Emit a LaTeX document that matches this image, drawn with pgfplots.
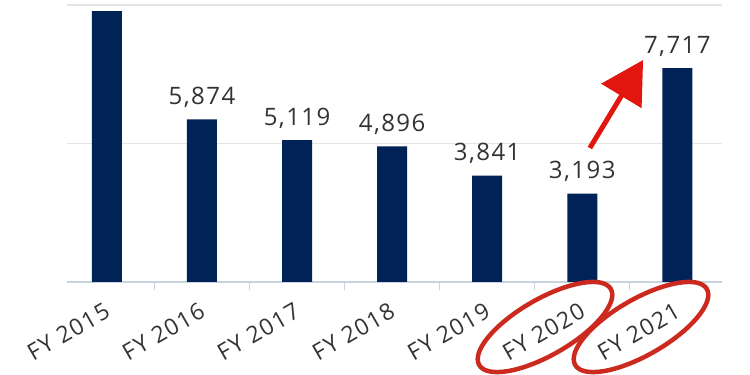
\documentclass[border=0pt]{standalone}
\usepackage{fontspec}
\setmainfont{Open Sans}
\newfontfamily\lblfont[LetterSpace=6]{Open Sans}
\usepackage{pgfplots}
\pgfplotsset{compat=1.18}
\usetikzlibrary{arrows.meta}
\definecolor{navy}{HTML}{012256}
\definecolor{gridgray}{HTML}{E4E4E4}
\definecolor{basecol}{HTML}{C9D3DF}
\definecolor{txt}{HTML}{333333}
\definecolor{arrowred}{HTML}{E2160F}
\definecolor{ringred}{HTML}{CC2A1E}
\pgfplotstableread{
x y label
0 9783 {}
1 5874 {5,874}
2 5119 {5,119}
3 4896 {4,896}
4 3841 {3,841}
5 3193 {3,193}
6 7717 {7,717}
}\datatable
\begin{document}
\begin{tikzpicture}[x=1pt,y=1pt]
\useasboundingbox (0,0) rectangle (750,375);
\begin{axis}[
  at={(67pt,93pt)}, anchor=south west,
  scale only axis, width=655pt, height=277pt,
  xmin=-0.42, xmax=6.47, ymin=0, ymax=10000,
  ybar, bar width=30pt,
  axis x line*=bottom, axis y line*=left,
  x axis line style={draw=basecol, line width=2pt},
  y axis line style={draw=none},
  xtick={0,...,6},
  xticklabels={FY 2015,FY 2016,FY 2017,FY 2018,FY 2019,FY 2020,FY 2021},
  major x tick style={draw=none}, major tick length=0pt,
  minor xtick={0.5,1.5,2.5,3.5,4.5,5.5},
  minor tick length=8pt, tick align=outside,
  minor x tick style={draw=basecol, line width=1.2pt},
  xticklabel style={rotate=30, anchor=north east, inner sep=0pt, yshift=-15pt, xshift=-13pt,
    font=\lblfont\fontsize{23pt}{23pt}\selectfont, text=txt},
  ytick={0,5000,10000}, yticklabels={,,}, scaled y ticks=false, major y tick style={draw=none},
  ymajorgrids, grid style={draw=gridgray, line width=1.5pt},
  nodes near coords, point meta=explicit symbolic,
  nodes near coords style={anchor=base, yshift=15pt, inner sep=0pt,
    font=\lblfont\fontsize{24pt}{24pt}\selectfont, text=txt},
  clip=false,
]
\addplot[fill=navy, draw=none] table[x=x, y=y, meta=label] {\datatable};
\draw[arrowred, line width=5pt, -{Triangle[width=46pt,length=42pt]}]
  (axis cs:5.08,4838) -- (axis cs:5.64,8014);
\end{axis}
\draw[ringred, line width=4.5pt, rotate around={30:(545,48)}] (545,48) ellipse [x radius=76, y radius=28];
\draw[ringred, line width=4.5pt, rotate around={30:(641,48)}] (641,48) ellipse [x radius=76, y radius=28];
\end{tikzpicture}
\end{document}
